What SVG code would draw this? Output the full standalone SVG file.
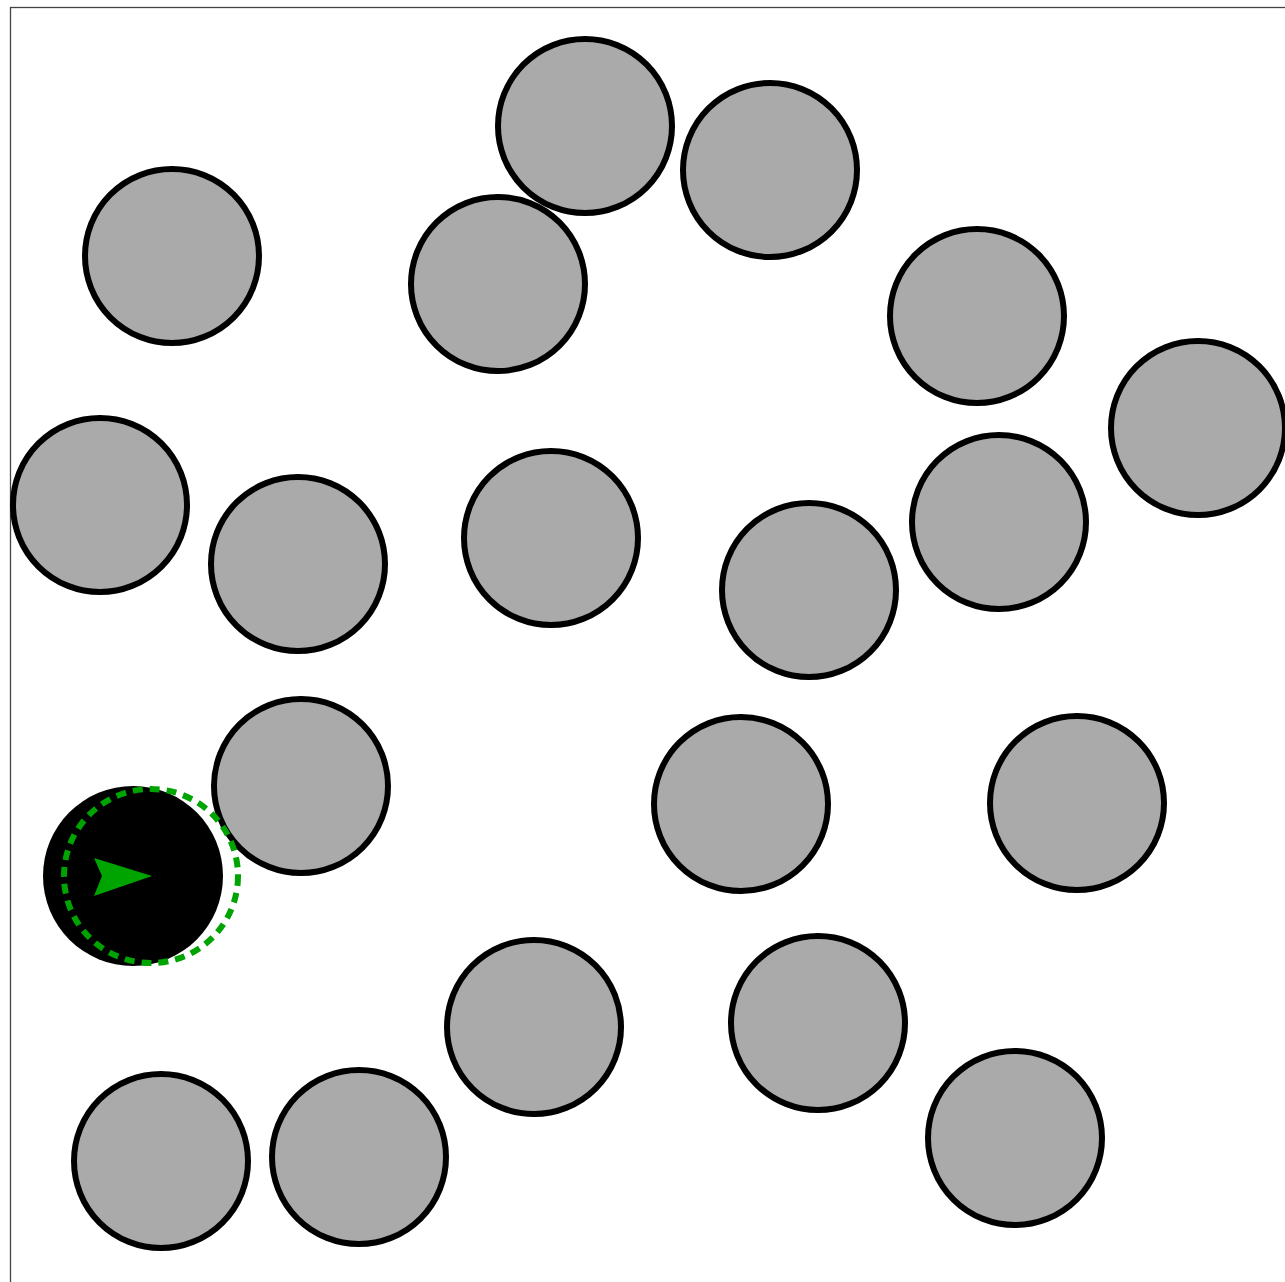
<svg xmlns="http://www.w3.org/2000/svg" width="1285" height="1282" viewBox="0 0 1285 1282">
<style>
.ob{fill:#aaaaaa;stroke:#000;stroke-width:6}
</style>
<rect width="1285" height="1282" fill="#fff"/>
<rect x="10.5" y="7.5" width="1400" height="1400" fill="none" stroke="#444" stroke-width="1.3"/>
<g id="obstacles">
<circle id="o1" class="ob" cx="172" cy="256" r="87"/>
<circle id="o2" class="ob" cx="585" cy="126" r="87"/>
<circle id="o3" class="ob" cx="770" cy="170" r="87"/>
<circle id="o4" class="ob" cx="498" cy="284" r="87"/>
<circle id="o5" class="ob" cx="977" cy="316" r="87"/>
<circle id="o6" class="ob" cx="1198" cy="428" r="87"/>
<circle id="o7" class="ob" cx="100" cy="505" r="87"/>
<circle id="o8" class="ob" cx="298" cy="564" r="87"/>
<circle id="o9" class="ob" cx="551" cy="538" r="87"/>
<circle id="o10" class="ob" cx="809" cy="590" r="87"/>
<circle id="o11" class="ob" cx="999" cy="522" r="87"/>
<circle id="o12" class="ob" cx="301" cy="786" r="87"/>
<circle id="o13" class="ob" cx="741" cy="804" r="87"/>
<circle id="o14" class="ob" cx="1077" cy="803" r="87"/>
<circle id="o15" class="ob" cx="534" cy="1027" r="87"/>
<circle id="o16" class="ob" cx="818" cy="1023" r="87"/>
<circle id="o17" class="ob" cx="161" cy="1161" r="87"/>
<circle id="o18" class="ob" cx="359" cy="1157" r="87"/>
<circle id="o19" class="ob" cx="1015" cy="1138" r="87"/>
</g>
<g id="robot">
<circle cx="133" cy="876" r="90" fill="#000"/>
<circle cx="151" cy="876" r="87" fill="none" stroke="#00a400" stroke-width="6" stroke-dasharray="10 7"/>
<polygon points="152,876 94,858 102,876 94,896" fill="#00a400"/>
</g>
</svg>
